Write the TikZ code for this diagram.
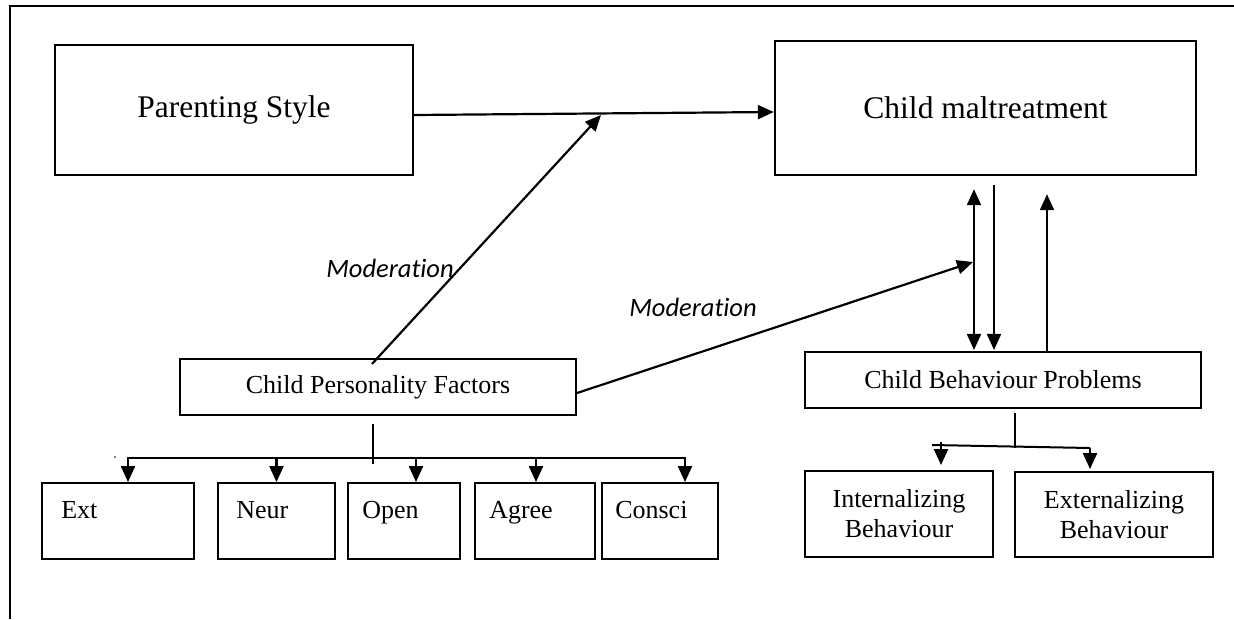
\documentclass[tikz,border=0pt]{standalone}
\usepackage{fontspec}
\setmainfont{Liberation Serif}
\newfontfamily\modfont[Ligatures=NoCommon]{Carlito}
\usetikzlibrary{arrows.meta,calc}
\begin{document}
\begin{tikzpicture}[x=1pt,y=-1pt,
  bigbox/.style={draw, line width=2.4pt, inner sep=0pt, font=\fontsize{31.5}{36}\selectfont},
  midbox/.style={draw, line width=2.1pt, inner sep=0pt, minimum width=396pt, minimum height=56pt, font=\fontsize{26}{30}\selectfont},
  smallbox/.style={draw, line width=1.9pt, inner sep=0pt, minimum height=76pt},
  twobox/.style={draw, line width=1.9pt, inner sep=0pt, align=center, font=\fontsize{26}{30}\selectfont},
  lbl/.style={anchor=base west, inner sep=0pt, font=\fontsize{26}{30}\selectfont},
  modlbl/.style={inner sep=0pt, font=\modfont\itshape\fontsize{26.5}{30}\selectfont},
  plain/.style={line width=2pt},
  arr/.style={line width=2.2pt, -{Triangle[length=16pt,width=14pt]}},
  arrtwo/.style={line width=2.2pt, {Triangle[length=16pt,width=14pt]}-{Triangle[length=16pt,width=14pt]}},
]
\useasboundingbox (0,0) rectangle (1234,619);
% outer frame
\draw[line width=2.6pt] (1234,6) -- (10,6) -- (10,619);

% main boxes
\node[bigbox, minimum width=358pt, minimum height=130pt] (ps) at (234,110) {Parenting Style};
\node[bigbox, minimum width=421pt, minimum height=134pt] (cm) at (985.5,108) {Child maltreatment};
\node[midbox] (cpf) at (378,387) {Child Personality Factors};
\node[midbox] (cbp) at (1003,380) {Child Behaviour Problems};

% small boxes
\node[smallbox, minimum width=152pt] (ext) at (118,521) {};
\node[smallbox, minimum width=117pt] (neur) at (276.5,521) {};
\node[smallbox, minimum width=112pt] (open) at (404,521) {};
\node[smallbox, minimum width=120pt] (agree) at (535,521) {};
\node[smallbox, minimum width=116pt] (consci) at (660,521) {};
\node[lbl] (extl) at ($(ext.north west)+(20,36)$) {Ext};
\node[lbl] (neurl) at ($(neur.north west)+(19,36)$) {Neur};
\node[lbl] (openl) at ($(open.north west)+(15,36)$) {Open};
\node[lbl] (agreel) at ($(agree.north west)+(15,36)$) {Agree};
\node[lbl] (conscil) at ($(consci.north west)+(14,36)$) {Consci};

\node[twobox, minimum width=188pt, minimum height=86pt] (intb) at (899,514) {Internalizing\\Behaviour};
\node[twobox, minimum width=198pt, minimum height=85pt] (extb) at (1114,514.5) {Externalizing\\Behaviour};

% labels
\node[modlbl] (mod1) at (390,268) {Moderation};
\node[modlbl] (mod2) at (693,307) {Moderation};

% connectors
\draw[arr] ($(ps.east)+(0,5)$) -- ($(cm.west)+(0,4)$);
\coordinate (m1) at (601,115);
\draw[arr] ($(cpf.north)+(-6,6)$) -- (m1);
\coordinate (m2) at (973,262);
\draw[arr] ($(cpf.east)+(0,6)$) -- (m2);
\draw[arrtwo] ($(cm.south)+(-11.5,13)$) -- ($(cbp.north)+(-29,-1)$);
\draw[arr] ($(cm.south)+(8.5,9)$) -- ($(cbp.north)+(-9,-1)$);
\draw[arr] ($(cbp.north)+(44,1)$) -- ($(cm.south)+(61.5,18)$);

% personality bus
\draw[plain] ($(cpf.south)+(-5,8)$) -- ($(cpf.south)+(-5,48)$);
\coordinate (busL) at (128,458);
\coordinate (busR) at (685,458);
\draw[plain] (busL) -- (busR);
\fill (115,457) circle (0.9);
\draw[arr] ($(ext.north)+(10,-25)$) -- ($(ext.north)+(10,0)$);
\draw[arr] ($(neur.north)+(0,-25)$) -- (neur.north);
\draw[arr] ($(open.north)+(12,-25)$) -- ($(open.north)+(12,0)$);
\draw[arr] ($(agree.north)+(1,-25)$) -- ($(agree.north)+(1,0)$);
\draw[arr] ($(consci.north)+(25,-25)$) -- ($(consci.north)+(25,0)$);

% behaviour bus
\draw[plain] ($(cbp.south)+(12,4)$) -- ($(cbp.south)+(12,39)$);
\coordinate (bl) at (932,445);
\coordinate (br) at (1090,448);
\draw[plain] (bl) -- (br);
\draw[arr] ($(intb.north)+(42,-28)$) -- ($(intb.north)+(42,-5)$);
\draw[arr] (br) -- ($(extb.north)+(-24,-2)$);
\end{tikzpicture}
\end{document}
